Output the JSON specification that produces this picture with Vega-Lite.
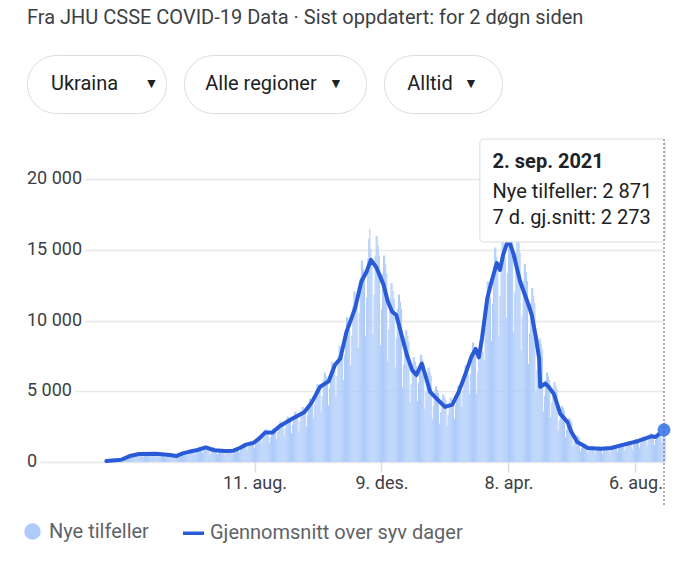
{
"$schema": "https://vega.github.io/schema/vega-lite/v6.json",
"background": "white",
"padding": {"left": 20, "top": 7, "right": 0, "bottom": 0},
"config": {"view": {"stroke": null}, "font": "Roboto"},
"title": {"text": "Fra JHU CSSE COVID-19 Data · Sist oppdatert: for 2 døgn siden", "anchor": "start", "frame": "bounds", "dx": 7, "font": "Roboto", "fontSize": 20, "fontWeight": "normal", "color": "#3c4043", "offset": 27},
"columns": 1,
"align": "none",
"spacing": 24,
"concat": [
{"spacing": 16, "hconcat": [
{"width": 139, "height": 58, "view": {"stroke": "#dadce0", "strokeWidth": 1, "cornerRadius": 29, "fill": "white"}, "data": {"values": [{"t": "Ukraina", "a": "▼"}]},
"layer": [
{"mark": {"type": "text", "fontSize": 20, "font": "Roboto", "color": "#202124", "dx": -12}, "encoding": {"text": {"field": "t"}}},
{"mark": {"type": "text", "fontSize": 14, "color": "#202124", "dx": 55}, "encoding": {"text": {"field": "a"}}}
]},
{"width": 182, "height": 58, "view": {"stroke": "#dadce0", "strokeWidth": 1, "cornerRadius": 29, "fill": "white"}, "data": {"values": [{"t": "Alle regioner", "a": "▼"}]},
"layer": [
{"mark": {"type": "text", "fontSize": 20, "font": "Roboto", "color": "#202124", "dx": -14}, "encoding": {"text": {"field": "t"}}},
{"mark": {"type": "text", "fontSize": 14, "color": "#202124", "dx": 61}, "encoding": {"text": {"field": "a"}}}
]},
{"width": 118, "height": 58, "view": {"stroke": "#dadce0", "strokeWidth": 1, "cornerRadius": 29, "fill": "white"}, "data": {"values": [{"t": "Alltid", "a": "▼"}]},
"layer": [
{"mark": {"type": "text", "fontSize": 20, "font": "Roboto", "color": "#202124", "dx": -13}, "encoding": {"text": {"field": "t"}}},
{"mark": {"type": "text", "fontSize": 14, "color": "#202124", "dx": 28}, "encoding": {"text": {"field": "a"}}}
]}
]},
{
"width": 637,
"height": 323,
"layer": [
{
"data": {"format": {"parse": {"d": "date:'%Y-%m-%d'"}}, "values": [
{"d":"2020-03-23","n":40},{"d":"2020-03-24","n":60},{"d":"2020-03-25","n":70},{"d":"2020-03-26","n":90},{"d":"2020-03-27","n":110},{"d":"2020-03-28","n":120},{"d":"2020-03-29","n":140},
{"d":"2020-03-30","n":100},{"d":"2020-03-31","n":110},{"d":"2020-04-01","n":130},{"d":"2020-04-02","n":140},{"d":"2020-04-03","n":150},{"d":"2020-04-04","n":140},{"d":"2020-04-05","n":140},
{"d":"2020-04-06","n":150},{"d":"2020-04-07","n":195},{"d":"2020-04-08","n":240},{"d":"2020-04-09","n":265},{"d":"2020-04-10","n":265},{"d":"2020-04-11","n":255},{"d":"2020-04-12","n":240},
{"d":"2020-04-13","n":290},{"d":"2020-04-14","n":375},{"d":"2020-04-15","n":460},{"d":"2020-04-16","n":505},{"d":"2020-04-17","n":505},{"d":"2020-04-18","n":485},{"d":"2020-04-19","n":460},
{"d":"2020-04-20","n":360},{"d":"2020-04-21","n":470},{"d":"2020-04-22","n":580},{"d":"2020-04-23","n":630},{"d":"2020-04-24","n":630},{"d":"2020-04-25","n":605},{"d":"2020-04-26","n":580},
{"d":"2020-04-27","n":375},{"d":"2020-04-28","n":495},{"d":"2020-04-29","n":610},{"d":"2020-04-30","n":665},{"d":"2020-05-01","n":665},{"d":"2020-05-02","n":640},{"d":"2020-05-03","n":610},
{"d":"2020-05-04","n":385},{"d":"2020-05-05","n":500},{"d":"2020-05-06","n":620},{"d":"2020-05-07","n":680},{"d":"2020-05-08","n":680},{"d":"2020-05-09","n":650},{"d":"2020-05-10","n":620},
{"d":"2020-05-11","n":370},{"d":"2020-05-12","n":485},{"d":"2020-05-13","n":600},{"d":"2020-05-14","n":655},{"d":"2020-05-15","n":655},{"d":"2020-05-16","n":625},{"d":"2020-05-17","n":600},
{"d":"2020-05-18","n":340},{"d":"2020-05-19","n":440},{"d":"2020-05-20","n":545},{"d":"2020-05-21","n":600},{"d":"2020-05-22","n":600},{"d":"2020-05-23","n":570},{"d":"2020-05-24","n":545},
{"d":"2020-05-25","n":285},{"d":"2020-05-26","n":375},{"d":"2020-05-27","n":460},{"d":"2020-05-28","n":505},{"d":"2020-05-29","n":505},{"d":"2020-05-30","n":485},{"d":"2020-05-31","n":460},
{"d":"2020-06-01","n":395},{"d":"2020-06-02","n":520},{"d":"2020-06-03","n":640},{"d":"2020-06-04","n":700},{"d":"2020-06-05","n":700},{"d":"2020-06-06","n":670},{"d":"2020-06-07","n":640},
{"d":"2020-06-08","n":475},{"d":"2020-06-09","n":620},{"d":"2020-06-10","n":765},{"d":"2020-06-11","n":840},{"d":"2020-06-12","n":840},{"d":"2020-06-13","n":805},{"d":"2020-06-14","n":765},
{"d":"2020-06-15","n":550},{"d":"2020-06-16","n":720},{"d":"2020-06-17","n":895},{"d":"2020-06-18","n":980},{"d":"2020-06-19","n":980},{"d":"2020-06-20","n":935},{"d":"2020-06-21","n":890},
{"d":"2020-06-22","n":650},{"d":"2020-06-23","n":850},{"d":"2020-06-24","n":1050},{"d":"2020-06-25","n":1150},{"d":"2020-06-26","n":1150},{"d":"2020-06-27","n":1100},{"d":"2020-06-28","n":1050},
{"d":"2020-06-29","n":580},{"d":"2020-06-30","n":755},{"d":"2020-07-01","n":935},{"d":"2020-07-02","n":1025},{"d":"2020-07-03","n":1025},{"d":"2020-07-04","n":980},{"d":"2020-07-05","n":935},
{"d":"2020-07-06","n":520},{"d":"2020-07-07","n":680},{"d":"2020-07-08","n":840},{"d":"2020-07-09","n":920},{"d":"2020-07-10","n":920},{"d":"2020-07-11","n":880},{"d":"2020-07-12","n":840},
{"d":"2020-07-13","n":505},{"d":"2020-07-14","n":665},{"d":"2020-07-15","n":820},{"d":"2020-07-16","n":895},{"d":"2020-07-17","n":895},{"d":"2020-07-18","n":860},{"d":"2020-07-19","n":820},
{"d":"2020-07-20","n":545},{"d":"2020-07-21","n":715},{"d":"2020-07-22","n":880},{"d":"2020-07-23","n":965},{"d":"2020-07-24","n":965},{"d":"2020-07-25","n":925},{"d":"2020-07-26","n":880},
{"d":"2020-07-27","n":695},{"d":"2020-07-28","n":910},{"d":"2020-07-29","n":1125},{"d":"2020-07-30","n":1230},{"d":"2020-07-31","n":1230},{"d":"2020-08-01","n":1175},{"d":"2020-08-02","n":1125},
{"d":"2020-08-03","n":840},{"d":"2020-08-04","n":1095},{"d":"2020-08-05","n":1355},{"d":"2020-08-06","n":1485},{"d":"2020-08-07","n":1485},{"d":"2020-08-08","n":1420},{"d":"2020-08-09","n":1355},
{"d":"2020-08-10","n":1010},{"d":"2020-08-11","n":1320},{"d":"2020-08-12","n":1630},{"d":"2020-08-13","n":1780},{"d":"2020-08-14","n":1780},{"d":"2020-08-15","n":1705},{"d":"2020-08-16","n":1630},
{"d":"2020-08-17","n":1320},{"d":"2020-08-18","n":1725},{"d":"2020-08-19","n":2130},{"d":"2020-08-20","n":2335},{"d":"2020-08-21","n":2335},{"d":"2020-08-22","n":2235},{"d":"2020-08-23","n":2130},
{"d":"2020-08-24","n":1350},{"d":"2020-08-25","n":1770},{"d":"2020-08-26","n":2185},{"d":"2020-08-27","n":2390},{"d":"2020-08-28","n":2390},{"d":"2020-08-29","n":2290},{"d":"2020-08-30","n":2185},
{"d":"2020-08-31","n":1625},{"d":"2020-09-01","n":2125},{"d":"2020-09-02","n":2625},{"d":"2020-09-03","n":2875},{"d":"2020-09-04","n":2875},{"d":"2020-09-05","n":2750},{"d":"2020-09-06","n":2625},
{"d":"2020-09-07","n":1820},{"d":"2020-09-08","n":2380},{"d":"2020-09-09","n":2940},{"d":"2020-09-10","n":3220},{"d":"2020-09-11","n":3220},{"d":"2020-09-12","n":3080},{"d":"2020-09-13","n":2940},
{"d":"2020-09-14","n":2010},{"d":"2020-09-15","n":2625},{"d":"2020-09-16","n":3245},{"d":"2020-09-17","n":3555},{"d":"2020-09-18","n":3555},{"d":"2020-09-19","n":3400},{"d":"2020-09-20","n":3245},
{"d":"2020-09-21","n":2200},{"d":"2020-09-22","n":2875},{"d":"2020-09-23","n":3550},{"d":"2020-09-24","n":3885},{"d":"2020-09-25","n":3885},{"d":"2020-09-26","n":3720},{"d":"2020-09-27","n":3550},
{"d":"2020-09-28","n":2535},{"d":"2020-09-29","n":3315},{"d":"2020-09-30","n":4095},{"d":"2020-10-01","n":4485},{"d":"2020-10-02","n":4485},{"d":"2020-10-03","n":4290},{"d":"2020-10-04","n":4095},
{"d":"2020-10-05","n":3120},{"d":"2020-10-06","n":4080},{"d":"2020-10-07","n":5040},{"d":"2020-10-08","n":5520},{"d":"2020-10-09","n":5520},{"d":"2020-10-10","n":5280},{"d":"2020-10-11","n":5040},
{"d":"2020-10-12","n":3575},{"d":"2020-10-13","n":4675},{"d":"2020-10-14","n":5775},{"d":"2020-10-15","n":6325},{"d":"2020-10-16","n":6325},{"d":"2020-10-17","n":6050},{"d":"2020-10-18","n":5775},
{"d":"2020-10-19","n":4000},{"d":"2020-10-20","n":5230},{"d":"2020-10-21","n":6460},{"d":"2020-10-22","n":7070},{"d":"2020-10-23","n":7070},{"d":"2020-10-24","n":6765},{"d":"2020-10-25","n":6460},
{"d":"2020-10-26","n":4650},{"d":"2020-10-27","n":6080},{"d":"2020-10-28","n":7510},{"d":"2020-10-29","n":8220},{"d":"2020-10-30","n":8220},{"d":"2020-10-31","n":7865},{"d":"2020-11-01","n":7510},
{"d":"2020-11-02","n":5785},{"d":"2020-11-03","n":7565},{"d":"2020-11-04","n":9345},{"d":"2020-11-05","n":10235},{"d":"2020-11-06","n":10235},{"d":"2020-11-07","n":9790},{"d":"2020-11-08","n":9345},
{"d":"2020-11-09","n":6825},{"d":"2020-11-10","n":8925},{"d":"2020-11-11","n":11025},{"d":"2020-11-12","n":12075},{"d":"2020-11-13","n":12075},{"d":"2020-11-14","n":11550},{"d":"2020-11-15","n":11025},
{"d":"2020-11-16","n":8060},{"d":"2020-11-17","n":10540},{"d":"2020-11-18","n":13020},{"d":"2020-11-19","n":14260},{"d":"2020-11-20","n":14260},{"d":"2020-11-21","n":13640},{"d":"2020-11-22","n":13020},
{"d":"2020-11-23","n":8905},{"d":"2020-11-24","n":11645},{"d":"2020-11-25","n":14385},{"d":"2020-11-26","n":15755},{"d":"2020-11-27","n":16500},{"d":"2020-11-28","n":15070},{"d":"2020-11-29","n":14385},
{"d":"2020-11-30","n":9035},{"d":"2020-12-01","n":11815},{"d":"2020-12-02","n":14595},{"d":"2020-12-03","n":15985},{"d":"2020-12-04","n":15985},{"d":"2020-12-05","n":15290},{"d":"2020-12-06","n":14595},
{"d":"2020-12-07","n":8255},{"d":"2020-12-08","n":10795},{"d":"2020-12-09","n":13335},{"d":"2020-12-10","n":14605},{"d":"2020-12-11","n":14605},{"d":"2020-12-12","n":13970},{"d":"2020-12-13","n":13335},
{"d":"2020-12-14","n":7150},{"d":"2020-12-15","n":9350},{"d":"2020-12-16","n":11550},{"d":"2020-12-17","n":12650},{"d":"2020-12-18","n":12650},{"d":"2020-12-19","n":12100},{"d":"2020-12-20","n":11550},
{"d":"2020-12-21","n":6695},{"d":"2020-12-22","n":8755},{"d":"2020-12-23","n":10815},{"d":"2020-12-24","n":11845},{"d":"2020-12-25","n":11845},{"d":"2020-12-26","n":11330},{"d":"2020-12-27","n":10815},
{"d":"2020-12-28","n":5265},{"d":"2020-12-29","n":6885},{"d":"2020-12-30","n":8505},{"d":"2020-12-31","n":9315},{"d":"2021-01-01","n":9315},{"d":"2021-01-02","n":8910},{"d":"2021-01-03","n":8505},
{"d":"2021-01-04","n":4190},{"d":"2021-01-05","n":5480},{"d":"2021-01-06","n":6770},{"d":"2021-01-07","n":7420},{"d":"2021-01-08","n":7420},{"d":"2021-01-09","n":7095},{"d":"2021-01-10","n":6770},
{"d":"2021-01-11","n":4290},{"d":"2021-01-12","n":5610},{"d":"2021-01-13","n":6930},{"d":"2021-01-14","n":7590},{"d":"2021-01-15","n":7590},{"d":"2021-01-16","n":7260},{"d":"2021-01-17","n":6930},
{"d":"2021-01-18","n":3770},{"d":"2021-01-19","n":4930},{"d":"2021-01-20","n":6090},{"d":"2021-01-21","n":6670},{"d":"2021-01-22","n":6670},{"d":"2021-01-23","n":6380},{"d":"2021-01-24","n":6090},
{"d":"2021-01-25","n":3020},{"d":"2021-01-26","n":3950},{"d":"2021-01-27","n":4880},{"d":"2021-01-28","n":5350},{"d":"2021-01-29","n":5350},{"d":"2021-01-30","n":5115},{"d":"2021-01-31","n":4880},
{"d":"2021-02-01","n":2700},{"d":"2021-02-02","n":3530},{"d":"2021-02-03","n":4360},{"d":"2021-02-04","n":4770},{"d":"2021-02-05","n":4770},{"d":"2021-02-06","n":4565},{"d":"2021-02-07","n":4360},
{"d":"2021-02-08","n":2570},{"d":"2021-02-09","n":3360},{"d":"2021-02-10","n":4150},{"d":"2021-02-11","n":4540},{"d":"2021-02-12","n":4540},{"d":"2021-02-13","n":4345},{"d":"2021-02-14","n":4150},
{"d":"2021-02-15","n":3055},{"d":"2021-02-16","n":3995},{"d":"2021-02-17","n":4935},{"d":"2021-02-18","n":5405},{"d":"2021-02-19","n":5405},{"d":"2021-02-20","n":5170},{"d":"2021-02-21","n":4935},
{"d":"2021-02-22","n":3870},{"d":"2021-02-23","n":5060},{"d":"2021-02-24","n":6250},{"d":"2021-02-25","n":6840},{"d":"2021-02-26","n":6840},{"d":"2021-02-27","n":6545},{"d":"2021-02-28","n":6250},
{"d":"2021-03-01","n":4780},{"d":"2021-03-02","n":6250},{"d":"2021-03-03","n":7720},{"d":"2021-03-04","n":8450},{"d":"2021-03-05","n":8450},{"d":"2021-03-06","n":8085},{"d":"2021-03-07","n":7720},
{"d":"2021-03-08","n":4840},{"d":"2021-03-09","n":6330},{"d":"2021-03-10","n":7820},{"d":"2021-03-11","n":8570},{"d":"2021-03-12","n":8570},{"d":"2021-03-13","n":8195},{"d":"2021-03-14","n":7820},
{"d":"2021-03-15","n":7215},{"d":"2021-03-16","n":9435},{"d":"2021-03-17","n":11655},{"d":"2021-03-18","n":12765},{"d":"2021-03-19","n":12765},{"d":"2021-03-20","n":12210},{"d":"2021-03-21","n":11655},
{"d":"2021-03-22","n":8580},{"d":"2021-03-23","n":11220},{"d":"2021-03-24","n":13860},{"d":"2021-03-25","n":15180},{"d":"2021-03-26","n":15180},{"d":"2021-03-27","n":14520},{"d":"2021-03-28","n":13860},
{"d":"2021-03-29","n":8970},{"d":"2021-03-30","n":11730},{"d":"2021-03-31","n":14490},{"d":"2021-04-01","n":15870},{"d":"2021-04-02","n":15870},{"d":"2021-04-03","n":15180},{"d":"2021-04-04","n":14490},
{"d":"2021-04-05","n":10205},{"d":"2021-04-06","n":13345},{"d":"2021-04-07","n":16485},{"d":"2021-04-08","n":18055},{"d":"2021-04-09","n":18055},{"d":"2021-04-10","n":17270},{"d":"2021-04-11","n":16485},
{"d":"2021-04-12","n":9165},{"d":"2021-04-13","n":11985},{"d":"2021-04-14","n":14805},{"d":"2021-04-15","n":16215},{"d":"2021-04-16","n":16215},{"d":"2021-04-17","n":15510},{"d":"2021-04-18","n":14805},
{"d":"2021-04-19","n":7930},{"d":"2021-04-20","n":10370},{"d":"2021-04-21","n":12810},{"d":"2021-04-22","n":14030},{"d":"2021-04-23","n":14030},{"d":"2021-04-24","n":13420},{"d":"2021-04-25","n":12810},
{"d":"2021-04-26","n":6955},{"d":"2021-04-27","n":9095},{"d":"2021-04-28","n":11235},{"d":"2021-04-29","n":12305},{"d":"2021-04-30","n":12305},{"d":"2021-05-01","n":11770},{"d":"2021-05-02","n":11235},
{"d":"2021-05-03","n":4940},{"d":"2021-05-04","n":6460},{"d":"2021-05-05","n":7980},{"d":"2021-05-06","n":8740},{"d":"2021-05-07","n":8740},{"d":"2021-05-08","n":8360},{"d":"2021-05-09","n":7980},
{"d":"2021-05-10","n":3575},{"d":"2021-05-11","n":4675},{"d":"2021-05-12","n":5775},{"d":"2021-05-13","n":6325},{"d":"2021-05-14","n":6325},{"d":"2021-05-15","n":6050},{"d":"2021-05-16","n":5775},
{"d":"2021-05-17","n":3185},{"d":"2021-05-18","n":4165},{"d":"2021-05-19","n":5145},{"d":"2021-05-20","n":5635},{"d":"2021-05-21","n":5635},{"d":"2021-05-22","n":5390},{"d":"2021-05-23","n":5145},
{"d":"2021-05-24","n":2245},{"d":"2021-05-25","n":2935},{"d":"2021-05-26","n":3625},{"d":"2021-05-27","n":3970},{"d":"2021-05-28","n":3970},{"d":"2021-05-29","n":3795},{"d":"2021-05-30","n":3625},
{"d":"2021-05-31","n":1755},{"d":"2021-06-01","n":2295},{"d":"2021-06-02","n":2835},{"d":"2021-06-03","n":3105},{"d":"2021-06-04","n":3105},{"d":"2021-06-05","n":2970},{"d":"2021-06-06","n":2835},
{"d":"2021-06-07","n":1075},{"d":"2021-06-08","n":1400},{"d":"2021-06-09","n":1730},{"d":"2021-06-10","n":1900},{"d":"2021-06-11","n":1900},{"d":"2021-06-12","n":1815},{"d":"2021-06-13","n":1730},
{"d":"2021-06-14","n":750},{"d":"2021-06-15","n":980},{"d":"2021-06-16","n":1210},{"d":"2021-06-17","n":1320},{"d":"2021-06-18","n":1320},{"d":"2021-06-19","n":1265},{"d":"2021-06-20","n":1210},
{"d":"2021-06-21","n":635},{"d":"2021-06-22","n":835},{"d":"2021-06-23","n":1030},{"d":"2021-06-24","n":1125},{"d":"2021-06-25","n":1125},{"d":"2021-06-26","n":1080},{"d":"2021-06-27","n":1030},
{"d":"2021-06-28","n":620},{"d":"2021-06-29","n":810},{"d":"2021-06-30","n":1000},{"d":"2021-07-01","n":1090},{"d":"2021-07-02","n":1090},{"d":"2021-07-03","n":1045},{"d":"2021-07-04","n":1000},
{"d":"2021-07-05","n":625},{"d":"2021-07-06","n":815},{"d":"2021-07-07","n":1010},{"d":"2021-07-08","n":1105},{"d":"2021-07-09","n":1105},{"d":"2021-07-10","n":1055},{"d":"2021-07-11","n":1010},
{"d":"2021-07-12","n":650},{"d":"2021-07-13","n":850},{"d":"2021-07-14","n":1050},{"d":"2021-07-15","n":1150},{"d":"2021-07-16","n":1150},{"d":"2021-07-17","n":1100},{"d":"2021-07-18","n":1050},
{"d":"2021-07-19","n":750},{"d":"2021-07-20","n":980},{"d":"2021-07-21","n":1210},{"d":"2021-07-22","n":1320},{"d":"2021-07-23","n":1320},{"d":"2021-07-24","n":1265},{"d":"2021-07-25","n":1210},
{"d":"2021-07-26","n":830},{"d":"2021-07-27","n":1090},{"d":"2021-07-28","n":1345},{"d":"2021-07-29","n":1470},{"d":"2021-07-30","n":1470},{"d":"2021-07-31","n":1410},{"d":"2021-08-01","n":1345},
{"d":"2021-08-02","n":925},{"d":"2021-08-03","n":1205},{"d":"2021-08-04","n":1490},{"d":"2021-08-05","n":1635},{"d":"2021-08-06","n":1635},{"d":"2021-08-07","n":1560},{"d":"2021-08-08","n":1490},
{"d":"2021-08-09","n":1020},{"d":"2021-08-10","n":1335},{"d":"2021-08-11","n":1650},{"d":"2021-08-12","n":1805},{"d":"2021-08-13","n":1805},{"d":"2021-08-14","n":1725},{"d":"2021-08-15","n":1650},
{"d":"2021-08-16","n":1155},{"d":"2021-08-17","n":1515},{"d":"2021-08-18","n":1870},{"d":"2021-08-19","n":2045},{"d":"2021-08-20","n":2045},{"d":"2021-08-21","n":1960},{"d":"2021-08-22","n":1870},
{"d":"2021-08-23","n":1200},{"d":"2021-08-24","n":1575},{"d":"2021-08-25","n":1945},{"d":"2021-08-26","n":2130},{"d":"2021-08-27","n":2130},{"d":"2021-08-28","n":2035},{"d":"2021-08-29","n":1945},
{"d":"2021-08-30","n":1400},{"d":"2021-08-31","n":1900},{"d":"2021-09-01","n":2500},{"d":"2021-09-02","n":2871}
]},
"mark": {"type": "bar", "binSpacing": 0},
"encoding": {
"x": {"field": "d", "type": "temporal", "timeUnit": "yearmonthdate", "title": null,
"scale": {"domain": [{"year": 2020, "month": "jan", "date": 9}, {"year": 2021, "month": "sep", "date": 2}]},
"axis": {"values": [{"year": 2020, "month": "aug", "date": 11}, {"year": 2020, "month": "dec", "date": 9}, {"year": 2021, "month": "apr", "date": 8}, {"year": 2021, "month": "aug", "date": 6}],
"labelExpr": "timeFormat(datum.value, '%-d') + '. ' + ['jan','feb','mar','apr','mai','jun','jul','aug','sep','okt','nov','des'][month(datum.value)] + '.'",
"grid": false, "domain": false, "ticks": true, "tickColor": "#dadce0", "tickSize": 10, "tickWidth": 1.5, "labelPadding": 2, "labelFontSize": 18, "labelColor": "#3c4043", "labelFont": "Roboto", "labelFlush": false}},
"y": {"field": "n", "type": "quantitative", "title": null, "scale": {"domain": [0, 22850], "nice": false},
"axis": {"values": [0, 5000, 10000, 15000, 20000], "labels": false, "domain": false, "ticks": false, "gridColor": "#e8e8e8", "gridWidth": 1.5}},
"color": {"datum": "Nye tilfeller", "type": "nominal",
"scale": {"domain": ["Nye tilfeller", "Gjennomsnitt over syv dager"], "range": ["#aecbfa", "#2a5bd7"]},
"legend": {"orient": "none", "legendX": -7, "legendY": 464, "direction": "horizontal", "title": null, "labelFontSize": 20, "labelColor": "#5f6368", "labelFont": "Roboto", "labelLimit": 500, "symbolSize": 250, "columnPadding": 27, "labelOffset": 4, "padding": 0,
"encode": {"symbols": {"update": {
"shape": {"signal": "datum.value === 'Nye tilfeller' ? 'circle' : 'stroke'"},
"size": {"signal": "datum.value === 'Nye tilfeller' ? 169 : 441"},
"fill": {"signal": "datum.value === 'Nye tilfeller' ? '#aecbfa' : 'transparent'"},
"stroke": {"signal": "datum.value === 'Nye tilfeller' ? 'transparent' : '#2a5bd7'"},
"strokeWidth": {"value": 3.5},
"opacity": {"value": 1}}}}}}
}
},
{
"data": {"values": [{"v": 0, "t": "0"}, {"v": 5000, "t": "5 000"}, {"v": 10000, "t": "10 000"}, {"v": 15000, "t": "15 000"}, {"v": 20000, "t": "20 000"}]},
"mark": {"type": "text", "align": "left", "baseline": "middle", "fontSize": 18, "font": "Roboto", "fill": "white", "stroke": "white", "strokeWidth": 8, "strokeJoin": "round"},
"encoding": {"x": {"datum": {"year": 2020, "month": "jan", "date": 9}, "type": "temporal"}, "y": {"field": "v", "type": "quantitative"}, "text": {"field": "t"}}
},
{
"data": {"values": [{"v": 0, "t": "0"}, {"v": 5000, "t": "5 000"}, {"v": 10000, "t": "10 000"}, {"v": 15000, "t": "15 000"}, {"v": 20000, "t": "20 000"}]},
"mark": {"type": "text", "align": "left", "baseline": "middle", "fontSize": 18, "font": "Roboto", "fill": "#3c4043"},
"encoding": {"x": {"datum": {"year": 2020, "month": "jan", "date": 9}, "type": "temporal"}, "y": {"field": "v", "type": "quantitative"}, "text": {"field": "t"}}
},
{
"data": {"format": {"parse": {"d": "date:'%Y-%m-%d'"}}, "values": [
{"d":"2020-03-24","a":70},{"d":"2020-04-07","a":160},{"d":"2020-04-15","a":420},{"d":"2020-04-24","a":570},{"d":"2020-05-10","a":590},{"d":"2020-05-23","a":500},{"d":"2020-05-29","a":420},
{"d":"2020-06-04","a":610},{"d":"2020-06-10","a":720},{"d":"2020-06-17","a":830},{"d":"2020-06-26","a":1030},{"d":"2020-07-04","a":830},{"d":"2020-07-14","a":780},{"d":"2020-07-22","a":800},
{"d":"2020-07-28","a":990},{"d":"2020-08-03","a":1230},{"d":"2020-08-10","a":1350},{"d":"2020-08-16","a":1700},{"d":"2020-08-21","a":2080},{"d":"2020-08-28","a":2080},{"d":"2020-09-04","a":2550},
{"d":"2020-09-16","a":3070},{"d":"2020-09-27","a":3520},{"d":"2020-10-04","a":4200},{"d":"2020-10-12","a":5320},{"d":"2020-10-20","a":5700},{"d":"2020-10-26","a":6860},{"d":"2020-10-31","a":7300},
{"d":"2020-11-06","a":9220},{"d":"2020-11-14","a":10870},{"d":"2020-11-20","a":12770},{"d":"2020-11-25","a":13480},{"d":"2020-11-29","a":14300},{"d":"2020-12-04","a":13800},{"d":"2020-12-11","a":12530},
{"d":"2020-12-15","a":11350},{"d":"2020-12-19","a":10640},{"d":"2020-12-23","a":10400},{"d":"2020-12-28","a":8990},{"d":"2021-01-02","a":7570},{"d":"2021-01-07","a":6500},{"d":"2021-01-11","a":6150},
{"d":"2021-01-16","a":6970},{"d":"2021-01-19","a":6260},{"d":"2021-01-24","a":4960},{"d":"2021-01-30","a":4490},{"d":"2021-02-07","a":3900},{"d":"2021-02-14","a":4060},{"d":"2021-02-20","a":4960},
{"d":"2021-02-26","a":6150},{"d":"2021-03-04","a":7450},{"d":"2021-03-08","a":8000},{"d":"2021-03-11","a":7400},{"d":"2021-03-14","a":8750},{"d":"2021-03-19","a":11580},{"d":"2021-03-23","a":12770},
{"d":"2021-03-28","a":14070},{"d":"2021-03-31","a":13590},{"d":"2021-04-03","a":14660},{"d":"2021-04-08","a":15800},{"d":"2021-04-13","a":14660},{"d":"2021-04-19","a":12770},{"d":"2021-04-27","a":11110},
{"d":"2021-04-30","a":10400},{"d":"2021-05-04","a":8800},{"d":"2021-05-07","a":7330},{"d":"2021-05-08","a":5320},{"d":"2021-05-13","a":5550},{"d":"2021-05-16","a":5320},{"d":"2021-05-21","a":4800},
{"d":"2021-05-27","a":3400},{"d":"2021-06-03","a":2800},{"d":"2021-06-06","a":2200},{"d":"2021-06-12","a":1420},{"d":"2021-06-22","a":990},{"d":"2021-07-04","a":940},{"d":"2021-07-14","a":990},
{"d":"2021-07-26","a":1230},{"d":"2021-08-08","a":1470},{"d":"2021-08-21","a":1820},{"d":"2021-08-25","a":1770},{"d":"2021-09-02","a":2273}
]},
"mark": {"type": "line", "strokeWidth": 4, "strokeJoin": "round", "strokeCap": "round"},
"encoding": {
"x": {"field": "d", "type": "temporal"},
"y": {"field": "a", "type": "quantitative"},
"color": {"datum": "Gjennomsnitt over syv dager", "type": "nominal"}
}
},
{
"data": {"format": {"parse": {"d": "date:'%Y-%m-%d'"}}, "values": [{"d": "2021-09-02", "a": 2273}]},
"mark": {"type": "point", "filled": true, "color": "#4c84f0", "size": 170, "opacity": 1},
"encoding": {"x": {"field": "d", "type": "temporal"}, "y": {"field": "a", "type": "quantitative"}}
},
{
"data": {"values": [{}]},
"mark": {"type": "rect", "fill": "white", "stroke": "#dadce0", "strokeWidth": 1, "cornerRadius": 4},
"encoding": {
"x": {"datum": {"year": 2021, "month": "mar", "date": 12}, "type": "temporal"},
"x2": {"datum": {"year": 2021, "month": "sep", "date": 3}},
"y": {"datum": 22850, "type": "quantitative"},
"y2": {"datum": 15560}
}
},
{
"data": {"values": [{}]},
"mark": {"type": "rule", "color": "#5f6368", "strokeDash": [2, 2], "strokeWidth": 1},
"encoding": {
"x": {"datum": {"year": 2021, "month": "sep", "date": 2}, "type": "temporal"},
"y": {"datum": 22850, "type": "quantitative"},
"y2": {"datum": -3190}
}
},
{
"data": {"values": [{}]},
"mark": {"type": "text", "text": "2. sep. 2021", "align": "left", "baseline": "middle", "fontSize": 20, "fontWeight": "bold", "color": "#202124", "font": "Roboto"},
"encoding": {"x": {"datum": {"year": 2021, "month": "mar", "date": 24}, "type": "temporal"}, "y": {"datum": 21188, "type": "quantitative"}}
},
{
"data": {"values": [{}]},
"mark": {"type": "text", "text": "Nye tilfeller: 2 871", "align": "left", "baseline": "middle", "fontSize": 20, "color": "#202124", "font": "Roboto"},
"encoding": {"x": {"datum": {"year": 2021, "month": "mar", "date": 24}, "type": "temporal"}, "y": {"datum": 19066, "type": "quantitative"}}
},
{
"data": {"values": [{}]},
"mark": {"type": "text", "text": "7 d. gj.snitt: 2 273", "align": "left", "baseline": "middle", "fontSize": 20, "color": "#202124", "font": "Roboto"},
"encoding": {"x": {"datum": {"year": 2021, "month": "mar", "date": 24}, "type": "temporal"}, "y": {"datum": 17262, "type": "quantitative"}}
}
]
}
]
}
